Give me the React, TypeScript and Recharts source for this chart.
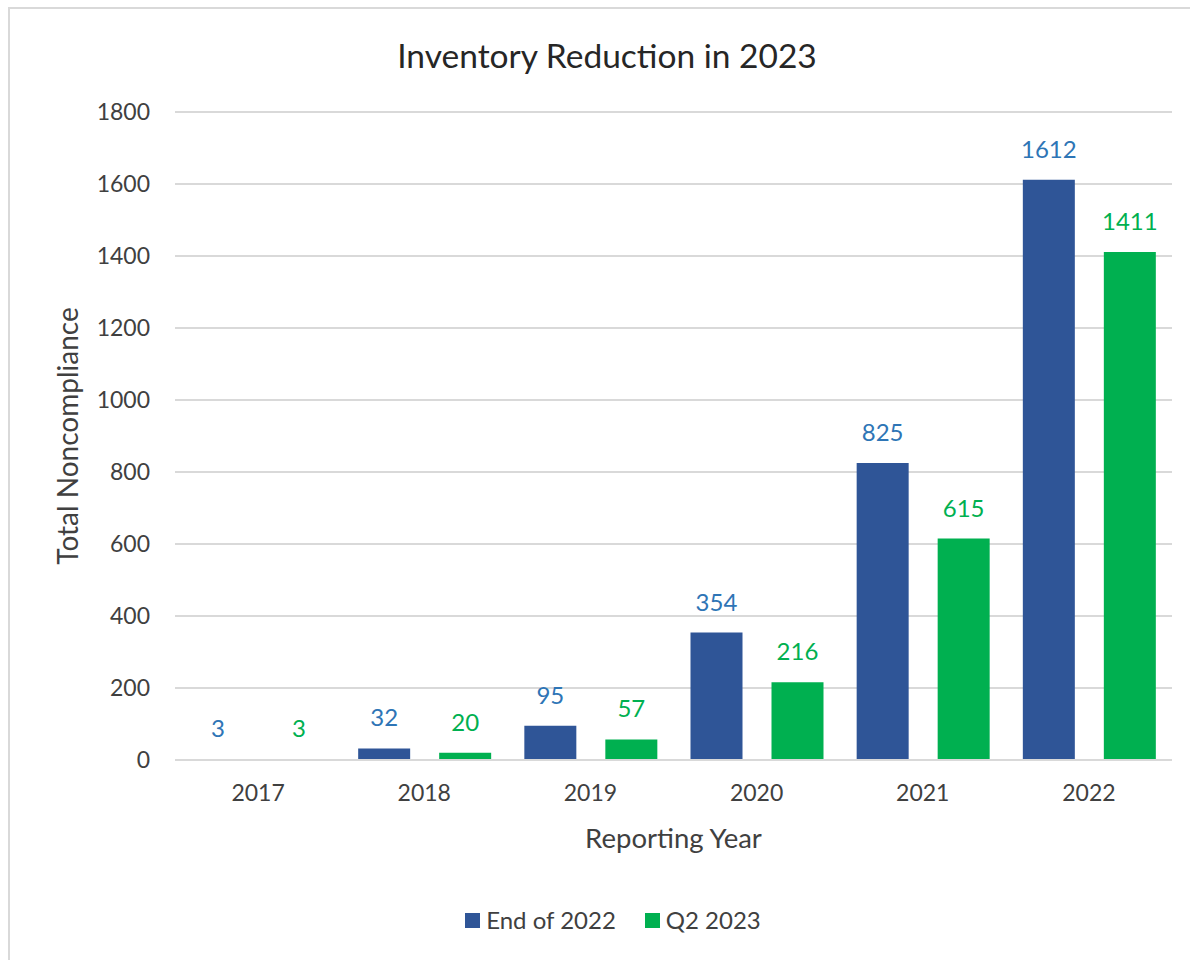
import { BarChart, Bar, XAxis, YAxis, CartesianGrid, Legend, LabelList } from "recharts";

const years = ["2017", "2018", "2019", "2020", "2021", "2022"];
const endOf2022 = [3, 32, 95, 354, 825, 1612];
const q2of2023 = [3, 20, 57, 216, 615, 1411];
const yTicks = [0, 200, 400, 600, 800, 1000, 1200, 1400, 1600, 1800];

const data = years.map((year, i) => ({
  year,
  end2022: endOf2022[i],
  q22023: q2of2023[i],
}));

const FONT = "Lato, 'Open Sans', sans-serif";
const TEXT = "#404040";

function LegendBox(props: any) {
  const items = props.payload || [];
  return (
    <div style={{ display: "flex", justifyContent: "center", gap: 29, fontFamily: FONT, height: 28, lineHeight: "28px" }}>
      {items.map((it: any) => (
        <div key={it.value} style={{ display: "flex", alignItems: "center" }}>
          <span style={{ width: 15, height: 15, background: it.color, display: "inline-block", marginRight: 6 }} />
          <span style={{ fontSize: 24, color: TEXT }}>{it.value}</span>
        </div>
      ))}
    </div>
  );
}

export default function App() {
  return (
    <div style={{ position: "absolute", left: 0, top: 0, width: 1190, height: 960, background: "#fff", fontFamily: FONT, overflow: "hidden" }}>
      <div style={{ position: "absolute", left: 8, top: 7, width: 1200, height: 1000, borderLeft: "2px solid #d9d9d9", borderTop: "2px solid #d9d9d9" }} />
      <div style={{ position: "absolute", left: 7, width: 1200, top: 35, textAlign: "center", fontSize: 33.5, color: "#262626", lineHeight: "40px" }}>
        Inventory Reduction in 2023
      </div>
      <BarChart
        width={1190}
        height={960}
        data={data}
        barSize={52}
        barGap={29}
        margin={{ top: 84, right: 18, left: 0, bottom: 100 }}
        style={{ position: "absolute", left: 0, top: 0 }}
      >
        <CartesianGrid vertical={false} stroke="#d9d9d9" strokeWidth={2} />
        <XAxis
          dataKey="year"
          height={100}
          tickLine={false}
          tickSize={0}
          tickMargin={25}
          axisLine={{ stroke: "#d9d9d9", strokeWidth: 2 }}
          tick={{ fill: TEXT, fontSize: 23, fontFamily: FONT }}
          label={{ value: "Reporting Year", position: "insideTop", offset: 68, fill: TEXT, fontSize: 27.5, fontFamily: FONT }}
        />
        <YAxis
          width={175}
          domain={[0, 1800]}
          ticks={yTicks}
          axisLine={false}
          tickLine={false}
          tickSize={0}
          tickMargin={25}
          tick={{ fill: TEXT, fontSize: 23, fontFamily: FONT }}
          label={{ value: "Total Noncompliance", angle: -90, position: "insideLeft", offset: 68, fill: TEXT, fontSize: 28, fontFamily: FONT, style: { textAnchor: "middle" } }}
        />
        <Legend
          verticalAlign="top"
          content={<LegendBox />}
          wrapperStyle={{ position: "absolute", left: 36, top: 906, width: 1154 }}
        />
        <Bar dataKey="end2022" name="End of 2022" fill="#2F5597" isAnimationActive={false}>
          <LabelList dataKey="end2022" position="top" offset={22} fill="#2E75B6" fontSize={24} fontFamily={FONT} />
        </Bar>
        <Bar dataKey="q22023" name="Q2 2023" fill="#00B050" isAnimationActive={false}>
          <LabelList dataKey="q22023" position="top" offset={22} fill="#00B050" fontSize={24} fontFamily={FONT} />
        </Bar>
      </BarChart>
    </div>
  );
}
